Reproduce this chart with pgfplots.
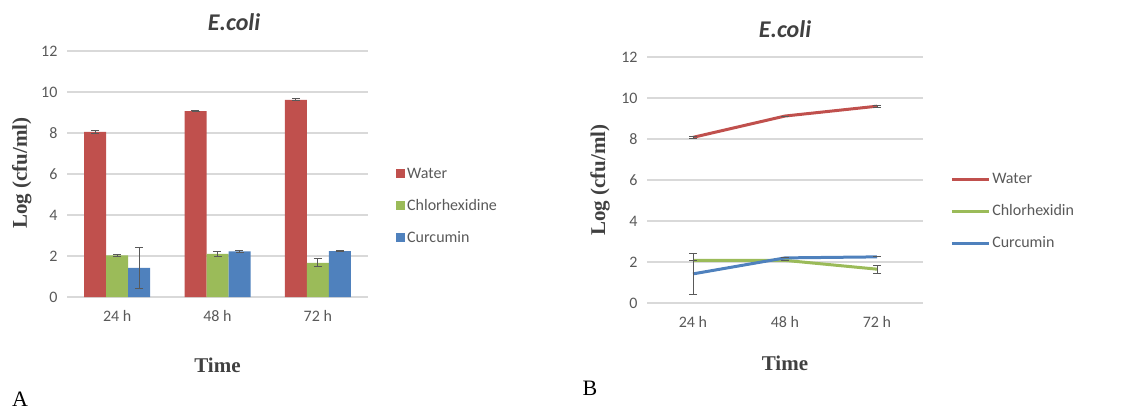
\documentclass[border=0pt]{standalone}
\usepackage{fontspec}
\setmainfont{Carlito}
\newfontfamily\serifnum{Liberation Serif}
\usepackage{pgfplots}
\usepackage{pgfplotstable}
\pgfplotsset{compat=1.18}
\definecolor{cred}{HTML}{C0504D}
\definecolor{cgreen}{HTML}{9BBB59}
\definecolor{cblue}{HTML}{4F81BD}
\definecolor{gridgray}{HTML}{D9D9D9}
\definecolor{tickgray}{HTML}{595959}
\definecolor{errgray}{HTML}{595959}
\definecolor{labgray}{HTML}{404040}

\pgfplotstableread{
x water werr chlor cerr curc uerr
0 8.05 0.08 2.03 0.03 1.42 0.98
1 9.07 0.04 2.10 0.11 2.22 0.07
2 9.62 0.05 1.67 0.20 2.24 0.04
}\dataA

\pgfplotstableread{
x water werr chlor cerr curc uerr
0 8.08 0.06 2.08 0.00 1.42 0.98
1 9.12 0.00 2.08 0.00 2.20 0.00
2 9.60 0.05 1.65 0.20 2.25 0.00
}\dataB

\pgfplotsset{
  base/.style={
    scale only axis,
    xmin=-0.5, xmax=2.5, ymin=0, ymax=12,
    ytick={0,2,...,12}, xtick={0,1,2}, xticklabels={24 h,48 h,72 h},
    axis line style={draw=none},
    major tick length=0pt,
    ymajorgrids,
    grid style={draw=gridgray, line width=1.3pt},
    /pgf/number format/assume math mode=true,
    tick label style={font=\fontsize{16}{19}\selectfont, text=tickgray},
    yticklabel style={xshift=-6pt},
    xticklabel style={yshift=-10pt},
    title style={font=\fontsize{24}{27}\selectfont\bfseries\itshape, text=labgray, anchor=center},
    xlabel={Time}, ylabel={Log (cfu/ml)},
    label style={font=\serifnum\bfseries\fontsize{21}{24}\selectfont, text=labgray, anchor=center},
    legend style={draw=none, fill=none, inner sep=0pt, anchor=west,
      font=\fontsize{16}{19}\selectfont, text=tickgray, row sep=15.5pt,
      cells={anchor=west}},
  },
  errs/.style={
    error bars/.cd, y dir=both, y explicit,
    error bar style={color=errgray, line width=0.9pt},
    error mark options={rotate=90, mark size=4pt, color=errgray, line width=0.9pt},
  }
}

\begin{document}
\begin{tikzpicture}[x=1pt,y=1pt]
\useasboundingbox (0,0) rectangle (1128,410);

% Panel A
\begin{axis}[base, at={(67pt,113pt)}, anchor=south west, width=301pt, height=246pt,
  title={E.coli}, title style={at={(axis description cs:0.555,1.093)}},
  xlabel style={at={(axis description cs:0.5,-0.276)}},
  ylabel style={at={(axis description cs:-0.15,0.504)}},
  legend style={at={(axis description cs:1.093,0.37)}},
  ybar, bar width=22pt,
  legend image code/.code={\fill[#1] (0pt,-4.5pt) rectangle (9pt,4.5pt);}]
\addplot[ybar, bar shift=-22pt, fill=cred, draw=none, errs] table[x=x, y=water, y error=werr] {\dataA};
\addlegendentry{Water}
\addplot[ybar, bar shift=0pt, fill=cgreen, draw=none, errs] table[x=x, y=chlor, y error=cerr] {\dataA};
\addlegendentry{Chlorhexidine}
\addplot[ybar, bar shift=22pt, fill=cblue, draw=none, errs] table[x=x, y=curc, y error=uerr] {\dataA};
\addlegendentry{Curcumin}
\end{axis}

% Panel B
\begin{axis}[base, at={(647pt,107pt)}, anchor=south west, width=276pt, height=246pt,
  title={E.coli}, title style={at={(axis description cs:0.5,1.089)}},
  xlabel style={at={(axis description cs:0.5,-0.244)}},
  ylabel style={at={(axis description cs:-0.17,0.5)}},
  legend style={at={(axis description cs:1.098,0.372)}},
  legend image code/.code={\draw[#1, line width=3pt] (0pt,0pt) -- (37pt,0pt);}]
\addplot[cred, line width=3pt, no marks, errs] table[x=x, y=water, y error=werr] {\dataB};
\addlegendentry{Water}
\addplot[cgreen, line width=3pt, no marks, errs] table[x=x, y=chlor, y error=cerr] {\dataB};
\addlegendentry{Chlorhexidin}
\addplot[cblue, line width=3pt, no marks, errs] table[x=x, y=curc, y error=uerr] {\dataB};
\addlegendentry{Curcumin}
\end{axis}

\node[font=\serifnum\fontsize{22}{24}\selectfont] at (20,11) {A};
\node[font=\serifnum\fontsize{22}{24}\selectfont] at (590,22) {B};
\end{tikzpicture}
\end{document}
